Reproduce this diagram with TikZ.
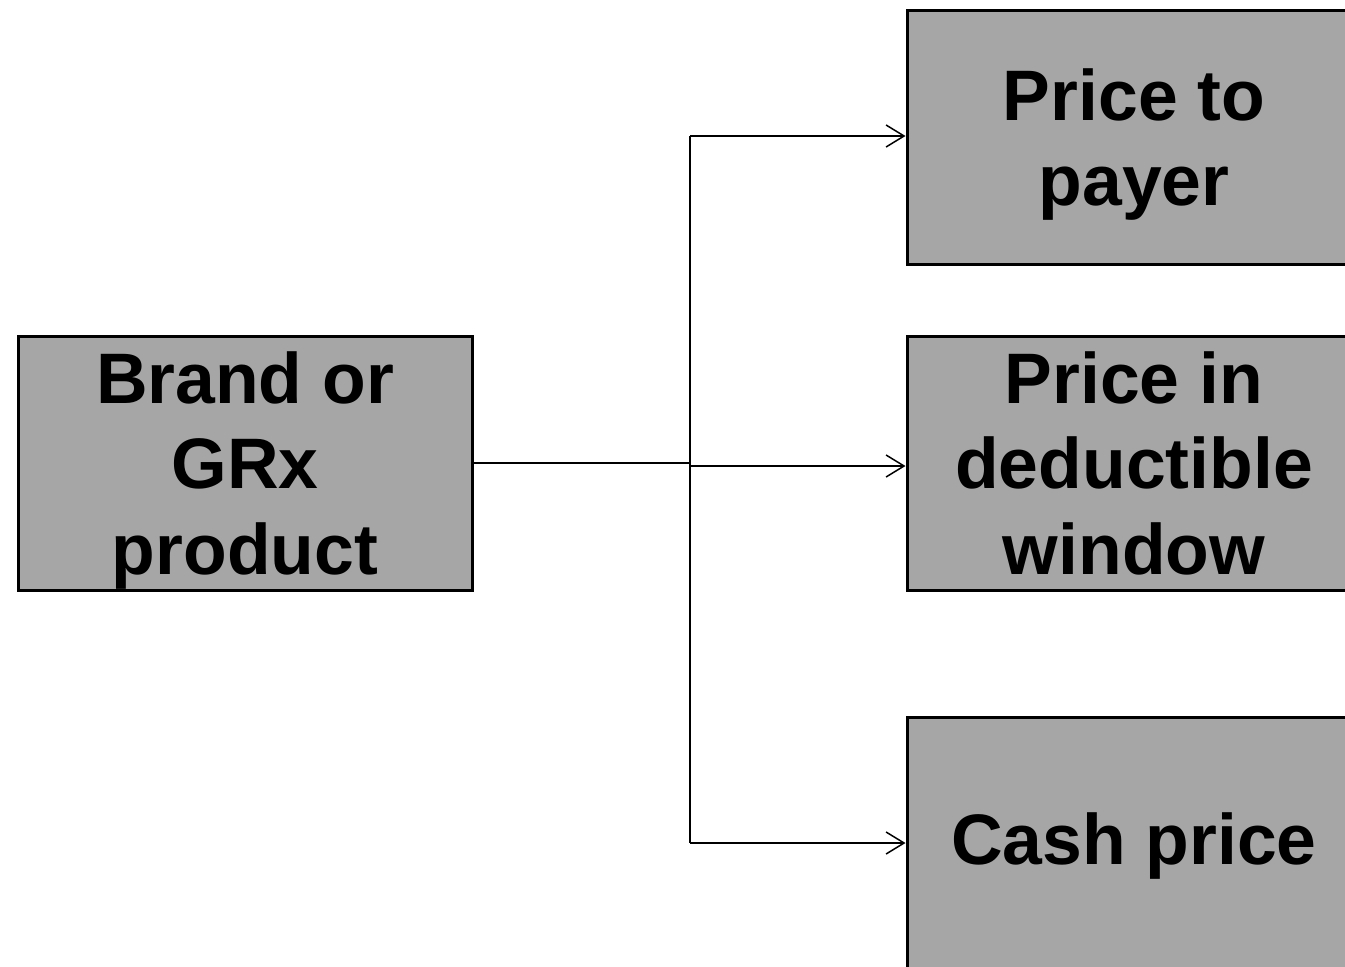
\documentclass[tikz,border=0pt]{standalone}
\usepackage{fontspec}
\setmainfont{Liberation Sans}
\usetikzlibrary{arrows.meta}
\definecolor{boxgray}{RGB}{166,166,166}
% #1: offset of the first baseline below the box centre
\newcommand\boxlines[2]{\raisebox{#1}[0pt][0pt]{\begin{tabular}[t]{@{}c@{}}#2\end{tabular}}}
\tikzset{
  box/.style={draw=black, line width=3pt, fill=boxgray, minimum width=454pt, minimum height=254pt,
    inner sep=0pt, font=\fontsize{71.5}{85.5}\selectfont\bfseries},
  conn/.style={draw=black, line width=1.5pt},
  arr/.style={conn, -{Straight Barb[length=18pt,width=22pt,line width=1.5pt]}}
}
\begin{document}
\begin{tikzpicture}[x=1pt,y=-1pt]
\useasboundingbox (0,0) rectangle (1345,967);
\clip (0,0) rectangle (1345,967);
\node[box] (brand) at (245,463) {\boxlines{60pt}{Brand or\\GRx\\product}};
\node[box] (payer) at (1134,137) {\boxlines{17pt}{Price to\\payer}};
\node[box] (deduct) at (1134,463) {\boxlines{60pt}{Price in\\deductible\\window}};
\node[box] (cash) at (1134,844) {\boxlines{-20pt}{Cash price}};
\coordinate (jt) at (690,136);
\coordinate (jm) at (690,463);
\coordinate (jb) at (690,843);
\draw[conn] (brand.east) -- (jm);
\draw[conn] (jt) -- (jb);
\draw[arr] (jt) -- (payer.west |- jt);
\draw[arr] ([yshift=-3pt]jm) -- ([yshift=-3pt]deduct.west);
\draw[arr] (jb) -- (cash.west |- jb);
\end{tikzpicture}
\end{document}
